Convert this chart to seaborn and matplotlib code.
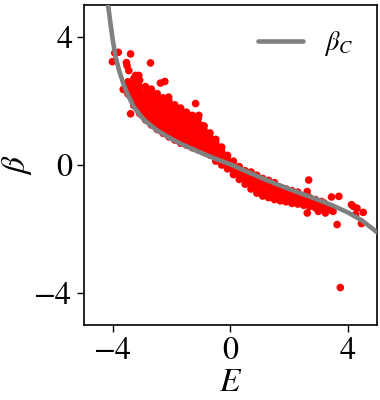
import numpy as np
import pandas as pd
import matplotlib
matplotlib.use('Agg')
import matplotlib.pyplot as plt
import seaborn as sns

# beta_C curve
curve_E = [-4.24, -4.17, -4.1, -4.02, -3.92, -3.8, -3.64, -3.5, -3.3, -3.1,
           -2.9, -2.7, -2.5, -2.2, -1.8, -1.4, -1.0, -0.5, 0.0, 0.5, 1.0,
           1.5, 2.0, 2.5, 3.0, 3.5, 4.0, 4.5, 5.0]
curve_beta = [5.45, 4.95, 4.45, 3.92, 3.38, 2.95, 2.5, 2.18, 1.82, 1.57,
              1.37, 1.22, 1.08, 0.91, 0.71, 0.54, 0.38, 0.19, 0.02, -0.18,
              -0.38, -0.57, -0.75, -0.92, -1.09, -1.27, -1.48, -1.74, -2.1]

# dense band of samples, column by column (E value -> beta values)
band_E = [-3.5, -3.3, -3.1, -2.9, -2.7, -2.5, -2.3, -2.1, -1.9, -1.7, -1.5,
          -1.3, -1.1, -0.9, -0.7, -0.5, -0.3, -0.1, 0.1, 0.3, 0.5, 0.7, 0.9,
          1.1, 1.3, 1.5, 1.7, 1.9, 2.1, 2.3, 2.5, 2.7, 2.9, 3.1, 3.3]
band_beta = [
    [2.22, 2.3, 2.45, 2.6],
    [1.86, 1.95, 2.1, 2.25, 2.4, 2.55, 2.7],
    [1.61, 1.7, 1.85, 2.0, 2.15, 2.3, 2.45, 2.65],
    [1.41, 1.5, 1.65, 1.8, 1.95, 2.1, 2.25, 2.45],
    [1.25, 1.32, 1.47, 1.62, 1.77, 1.92, 2.07, 2.22, 2.37],
    [1.11, 1.18, 1.33, 1.48, 1.63, 1.78, 1.93, 2.08, 2.23],
    [0.99, 1.05, 1.2, 1.35, 1.5, 1.65, 1.8, 1.95, 2.1],
    [0.88, 0.95, 1.1, 1.25, 1.4, 1.55, 1.7, 1.85, 2.0],
    [0.78, 0.83, 0.98, 1.13, 1.28, 1.43, 1.58, 1.73, 1.88],
    [0.68, 0.73, 0.88, 1.03, 1.18, 1.33, 1.48, 1.63, 1.78],
    [0.62, 0.75, 0.9, 1.05, 1.2, 1.35, 1.5, 1.65],
    [0.54, 0.68, 0.82, 0.96, 1.1, 1.25, 1.4, 1.55],
    [0.47, 0.6, 0.74, 0.88, 1.02, 1.16, 1.3, 1.45],
    [0.4, 0.53, 0.67, 0.81, 0.95, 1.09, 1.22],
    [0.31, 0.45, 0.59, 0.73, 0.87, 1.0],
    [0.12, 0.26, 0.4, 0.54, 0.68, 0.8],
    [0.0, 0.14, 0.28, 0.42, 0.56],
    [-0.12, 0.02, 0.16, 0.3],
    [-0.3, -0.16, -0.02, 0.12],
    [-0.45, -0.31, -0.17, -0.05],
    [-0.6, -0.46, -0.32, -0.18],
    [-0.75, -0.61, -0.47, -0.33, -0.22],
    [-0.88, -0.74, -0.6, -0.46, -0.32],
    [-0.97, -0.83, -0.69, -0.55, -0.42],
    [-1.02, -0.88, -0.74, -0.6, -0.48],
    [-1.08, -0.94, -0.8, -0.66, -0.55],
    [-1.12, -0.98, -0.84, -0.7],
    [-1.15, -1.01, -0.87, -0.75],
    [-1.2, -1.06, -0.92, -0.8],
    [-1.22, -1.08, -0.95, -0.85],
    [-1.26, -1.12, -0.98],
    [-1.3, -1.16, -1.02],
    [-1.34, -1.2, -1.08],
    [-1.38, -1.25, -1.14],
    [-1.42, -1.3],
]

# scattered outliers
out_E = [-3.95, -3.83, -3.41, -4.03, -3.55, -2.73, -3.47, -3.66, -3.41, -3.01,
         -2.79, -2.39, -2.24, -1.19, -1.08, -1.02, -2.11, -3.13, -3.24, -3.01,
         -3.53, -3.24,
         2.67, 3.70, 3.45, 4.13, 4.32, 4.53, 4.27, 4.47, 3.64, 2.62, 3.24,
         3.75, 2.62, 3.2, 3.4, 3.5, 4.2, 3.0]
out_beta = [3.50, 3.52, 3.47, 3.23, 3.20, 3.19, 2.95, 2.36, 1.60, 1.55,
            1.40, 2.56, 2.61, 1.92, 1.55, 1.24, 2.12, 2.80, 2.33, 1.81,
            3.10, 2.80,
            -0.47, -0.98, -1.0, -1.24, -1.35, -1.48, -1.55, -1.83, -1.86, -1.5,
            -1.5, -3.83, -0.83, -1.19, -1.35, -1.45, -1.3, -1.45]

pts_E, pts_beta = [], []
for e, bs in zip(band_E, band_beta):
    for b in bs:
        pts_E.append(e)
        pts_beta.append(b)
pts_E += out_E
pts_beta += out_beta
samples = pd.DataFrame({'E': pts_E, 'beta': pts_beta})
curve = pd.DataFrame({'E': curve_E, 'beta': curve_beta})

sns.set_style('ticks')
plt.rcParams['font.family'] = ['STIXGeneral', 'DejaVu Serif']
plt.rcParams['mathtext.fontset'] = 'stix'
plt.rcParams['text.color'] = 'black'
plt.rcParams['axes.labelcolor'] = 'black'
plt.rcParams['xtick.color'] = 'black'
plt.rcParams['ytick.color'] = 'black'

fig = plt.figure(figsize=(3.8, 4.0), dpi=100)
ax = fig.add_axes([0.221, 0.1875, 0.771, 0.8])

sns.scatterplot(data=samples, x='E', y='beta', color='red', s=30,
                edgecolor='none', ax=ax, zorder=2)
sns.lineplot(data=curve, x='E', y='beta', color='grey', lw=3.3,
             label=r'$\beta_C$', ax=ax, zorder=3, sort=False)

ax.set_xlim(-5, 5)
ax.set_ylim(-5, 5)
ax.set_xticks([-4, 0, 4])
ax.set_yticks([-4, 0, 4])
ax.tick_params(labelsize=23, length=5, width=1)
ax.set_xlabel(r'$E$', fontsize=24, labelpad=2)
ax.set_ylabel(r'$\beta$', fontsize=24)
ax.yaxis.set_label_coords(-0.17, 0.5)
for sp in ax.spines.values():
    sp.set_visible(True)
    sp.set_linewidth(1.2)
    sp.set_color('black')
ax.legend(loc='upper right', frameon=False, fontsize=19, handlelength=1.7)

fig.savefig('out.png', dpi=100)
